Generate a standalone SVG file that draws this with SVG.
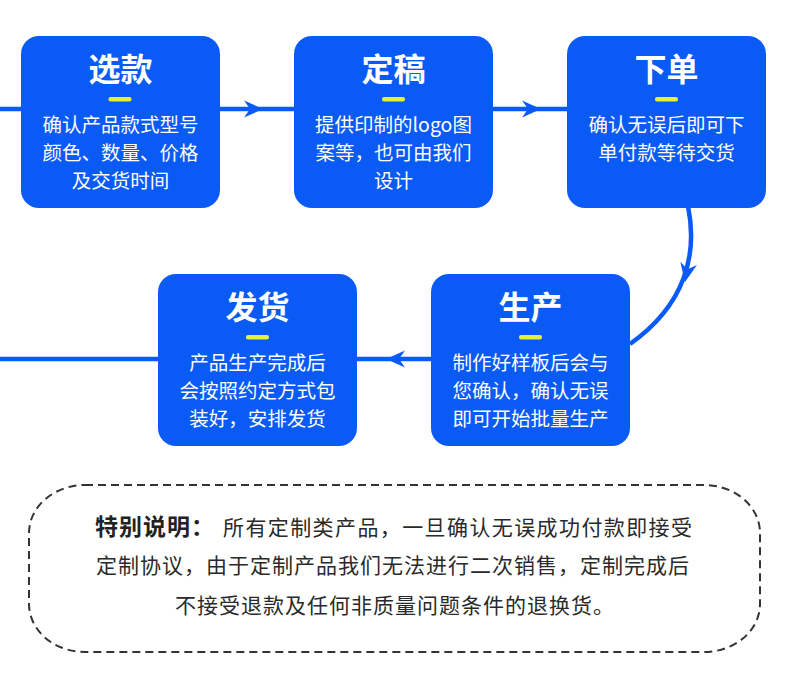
<svg xmlns="http://www.w3.org/2000/svg" width="790" height="675" viewBox="0 0 790 675">
<style>
.box{fill:#0a5bf6}
.title{font-family:"Noto Sans CJK SC","Noto Sans",sans-serif;font-weight:700;font-size:32px;fill:#fff;text-anchor:middle}
.body{font-family:"Noto Sans CJK SC","Noto Sans",sans-serif;font-size:19.5px;fill:#fff;text-anchor:middle}
.bar{fill:#e4f03c}
.line{stroke:#0a5bf6;stroke-width:4.5;fill:none}
.head{fill:#0a5bf6}
.note{font-family:"Noto Sans CJK SC","Noto Sans",sans-serif;font-size:21px;fill:#2a2a2a;letter-spacing:1px}
.noteb{font-weight:700;font-size:23px;fill:#222}
</style>
<defs>
<path id="ah" d="M0,0 L-19,-8.5 L-13,0 L-19,8.5 Z"/>
</defs>
<rect width="790" height="675" fill="#fff"/>
<g id="connectors">
<path class="line" d="M0,109 L21,109"/>
<path class="line" d="M220,109 L294,109"/>
<use href="#ah" class="head" transform="translate(263,109)"/>
<path class="line" d="M493,109 L567,109"/>
<use href="#ah" class="head" transform="translate(541,109)"/>
<path class="line" d="M688,206 C698,255 685,305 630,344"/>
<use href="#ah" class="head" transform="translate(685,282) rotate(101)"/>
<path class="line" d="M432,359 L357,359"/>
<use href="#ah" class="head" transform="translate(386,359) rotate(180)"/>
<path class="line" d="M158,359 L0,359"/>
</g>
<g id="node-xuankuan">
<rect class="box" x="21" y="36" width="199" height="172" rx="18"/>
<text class="title" x="120.5" y="81">选款</text>
<rect class="bar" x="108.5" y="97" width="23" height="4.5" rx="2"/>
<text class="body" x="120.5" y="132">确认产品款式型号</text>
<text class="body" x="120.5" y="160">颜色、数量、价格</text>
<text class="body" x="120.5" y="188">及交货时间</text>
</g>
<g id="node-dinggao">
<rect class="box" x="294" y="36" width="199" height="172" rx="18"/>
<text class="title" x="393.5" y="81">定稿</text>
<rect class="bar" x="382" y="97" width="23" height="4.5" rx="2"/>
<text class="body" x="393.5" y="132">提供印制的logo图</text>
<text class="body" x="393.5" y="160">案等，也可由我们</text>
<text class="body" x="393.5" y="188">设计</text>
</g>
<g id="node-xiadan">
<rect class="box" x="567" y="36" width="199" height="172" rx="18"/>
<text class="title" x="666.5" y="81">下单</text>
<rect class="bar" x="655" y="97" width="23" height="4.5" rx="2"/>
<text class="body" x="666.5" y="132">确认无误后即可下</text>
<text class="body" x="666.5" y="160">单付款等待交货</text>
</g>
<g id="node-shengchan">
<rect class="box" x="431" y="274" width="199" height="172" rx="18"/>
<text class="title" x="530.5" y="319">生产</text>
<rect class="bar" x="519" y="335" width="23" height="4.5" rx="2"/>
<text class="body" x="530.5" y="370">制作好样板后会与</text>
<text class="body" x="530.5" y="398">您确认，确认无误</text>
<text class="body" x="530.5" y="426">即可开始批量生产</text>
</g>
<g id="node-fahuo">
<rect class="box" x="158" y="274" width="199" height="172" rx="18"/>
<text class="title" x="257.5" y="319">发货</text>
<rect class="bar" x="246" y="335" width="23" height="4.5" rx="2"/>
<text class="body" x="257.5" y="370">产品生产完成后</text>
<text class="body" x="257.5" y="398">会按照约定方式包</text>
<text class="body" x="257.5" y="426">装好，安排发货</text>
</g>
<g id="note">
<rect x="29" y="485" width="731" height="167" rx="56" ry="48" fill="none" stroke="#333" stroke-width="2" stroke-dasharray="8 5"/>
<text class="note" y="535"><tspan class="noteb" x="95">特别说明：</tspan><tspan x="223" style="letter-spacing:1.4px">所有定制类产品，一旦确认无误成功付款即接受</tspan></text>
<text class="note" x="96" y="573">定制协议，由于定制产品我们无法进行二次销售，定制完成后</text>
<text class="note" x="395" y="613" text-anchor="middle">不接受退款及任何非质量问题条件的退换货。</text>
</g>
</svg>
